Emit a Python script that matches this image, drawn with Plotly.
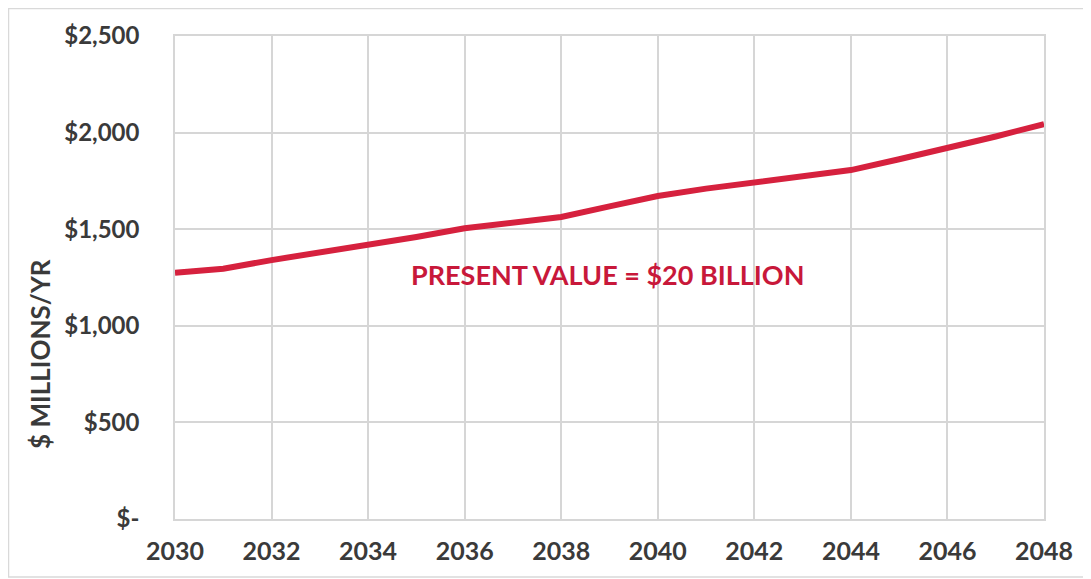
import plotly.graph_objects as go

years = [2030, 2031, 2032, 2033, 2034, 2035, 2036, 2037, 2038, 2039, 2040,
         2041, 2042, 2043, 2044, 2045, 2046, 2047, 2048]
values = [1275, 1295, 1340, 1378, 1415, 1460, 1505, 1537, 1563, 1618, 1672,
          1710, 1744, 1775, 1806, 1862, 1920, 1980, 2044]
y_ticks = [0, 500, 1000, 1500, 2000, 2500]
y_tick_labels = ["$-", "$500", "$1,000", "$1,500", "$2,000", "$2,500"]
x_ticks = [2030, 2032, 2034, 2036, 2038, 2040, 2042, 2044, 2046, 2048]
annotation_text = "PRESENT VALUE = $20 BILLION"
y_title = "$ MILLIONS/YR"

W, H = 1091, 579
OFF = 8  # page body margin
ml, mr, mt, mb = 175 - OFF, W - (1044 - OFF), 36 - OFF, H - (519 - OFF)
pw, ph = W - ml - mr, H - mt - mb

font_family = "Lato, 'Open Sans', sans-serif"
tick_color = "#3a3a3a"
grid_color = "#d6d6d6"
red = "#d6213e"

fig = go.Figure()
fig.add_trace(go.Scatter(x=years, y=values, mode="lines",
                         line=dict(color=red, width=6), hoverinfo="skip"))


def px_x(page_x):
    return (page_x - OFF - ml) / pw


def px_y(page_y):
    return (H - mb - (page_y - OFF)) / ph


fig.update_layout(
    width=W, height=H,
    margin=dict(l=ml, r=mr, t=mt, b=mb),
    paper_bgcolor="white", plot_bgcolor="white",
    showlegend=False,
    font=dict(family=font_family, color=tick_color),
    xaxis=dict(range=[2030, 2048], tickvals=x_ticks,
               tickfont=dict(size=25, family=font_family, color=tick_color, weight="bold"),
               showgrid=True, gridcolor=grid_color, gridwidth=1.5,
               showline=True, linecolor=grid_color, linewidth=1.5, mirror=True,
               zeroline=False, ticks="", ticklabelstandoff=9),
    yaxis=dict(range=[0, 2500], tickvals=y_ticks, ticktext=y_tick_labels,
               tickfont=dict(size=24, family=font_family, color=tick_color, weight="bold"),
               showgrid=True, gridcolor=grid_color, gridwidth=1.5,
               showline=True, linecolor=grid_color, linewidth=1.5, mirror=True,
               zeroline=False, ticks="", ticklabelstandoff=29),
    annotations=[
        dict(x=2038.95, y=1263, xref="x", yref="y", text=annotation_text,
             showarrow=False, xanchor="center", yanchor="middle",
             font=dict(size=27, color="#c8183a", family=font_family, weight="bold")),
        dict(x=px_x(40), y=px_y(354), xref="paper", yref="paper",
             xanchor="center", yanchor="middle",
             text=y_title, textangle=-90, showarrow=False,
             font=dict(size=26, color=tick_color, family=font_family, weight="bold")),
    ],
    shapes=[
        dict(type="rect", xref="paper", yref="paper",
             x0=px_x(OFF + 0.5), x1=px_x(1088),
             y0=px_y(577), y1=px_y(OFF + 0.5),
             line=dict(color="#d9d9d9", width=1.5), fillcolor="rgba(0,0,0,0)",
             layer="below"),
    ],
)

fig.write_html("out.html")
